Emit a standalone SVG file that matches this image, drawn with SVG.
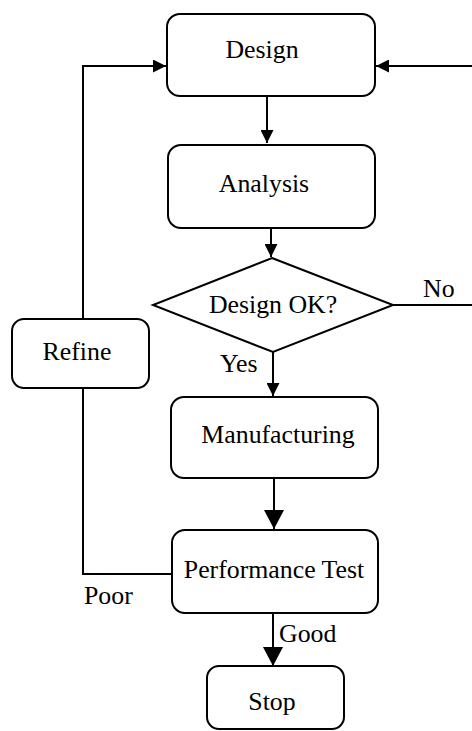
<svg xmlns="http://www.w3.org/2000/svg" width="472" height="731" viewBox="0 0 472 731">
<style>
.box{fill:#fff;stroke:#000;stroke-width:2}
.ln{fill:none;stroke:#000;stroke-width:2}
text{font-family:"Liberation Serif","Times New Roman",serif;font-size:25.8px;fill:#000}
.c{text-anchor:middle}
</style>
<defs>
<marker id="a" markerUnits="userSpaceOnUse" markerWidth="13" markerHeight="13" refX="13" refY="6.5" orient="auto"><path d="M0,0 L13,6.5 L0,13 Z" fill="#000"/></marker>
<marker id="b" markerUnits="userSpaceOnUse" markerWidth="19" markerHeight="20" refX="19" refY="10" orient="auto"><path d="M0,0 L19,10 L0,20 Z" fill="#000"/></marker>
</defs>
<g id="connectors">
<path class="ln" d="M267,96 V143" marker-end="url(#a)"/>
<path class="ln" d="M271,228 V257" marker-end="url(#a)"/>
<path class="ln" d="M273,352 V396" marker-end="url(#a)"/>
<path class="ln" d="M274,478 V529" marker-end="url(#b)"/>
<path class="ln" d="M273,613 V666" marker-end="url(#b)"/>
<path class="ln" d="M172,574 H83 V388"/>
<path class="ln" d="M83,319 V66 H166" marker-end="url(#a)"/>
<path class="ln" d="M393,305 H472"/>
<path class="ln" d="M472,66 H376" marker-end="url(#a)"/>
<text x="423" y="297">No</text>
<text x="220" y="372">Yes</text>
<text x="84" y="604">Poor</text>
<text x="279" y="642">Good</text>
</g>
<g id="design"><rect class="box" x="167" y="14" width="208" height="82" rx="13"/><text class="c" x="262" y="58">Design</text></g>
<g id="analysis"><rect class="box" x="168" y="145" width="207" height="83" rx="13"/><text class="c" x="264" y="192">Analysis</text></g>
<g id="decision"><polygon class="box" points="272,258 393,305 273,352 153,305"/><text class="c" x="273" y="313">Design OK?</text></g>
<g id="refine"><rect class="box" x="12" y="319" width="137" height="69" rx="12"/><text class="c" x="77" y="360">Refine</text></g>
<g id="manufacturing"><rect class="box" x="171" y="397" width="207" height="81" rx="13"/><text class="c" x="278" y="443">Manufacturing</text></g>
<g id="performance"><rect class="box" x="172" y="530" width="206" height="83" rx="13"/><text class="c" x="274" y="578">Performance Test</text></g>
<g id="stop"><rect class="box" x="207" y="666" width="137" height="63" rx="12"/><text class="c" x="272" y="710">Stop</text></g>
</svg>
